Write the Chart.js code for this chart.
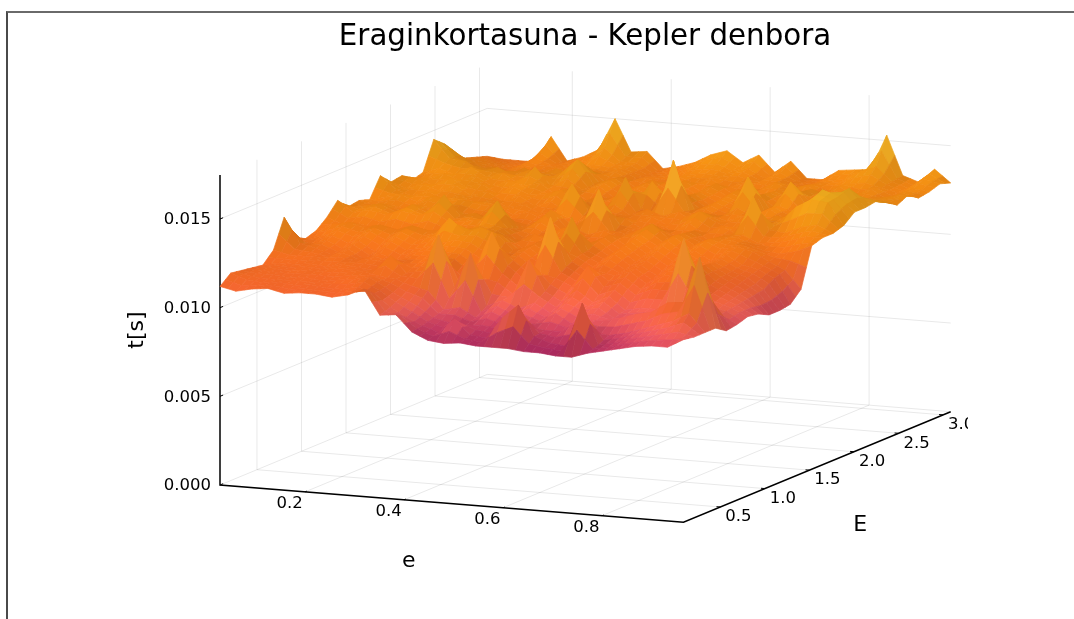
<!DOCTYPE html>
<html><head><meta charset="utf-8">
<style>
html,body{margin:0;padding:0;background:#fff}
#frame{position:absolute;left:6px;top:11px;width:1068px;height:608px;border-top:2px solid #6a6a6a;border-left:2px solid #4a4a4a;box-sizing:border-box}
#wrap{position:absolute;left:0;top:0;width:1074px;height:619px}
</style>
<script src="https://cdn.jsdelivr.net/npm/chart.js@4"></script>
</head><body><div id="frame"></div><div id="wrap"><canvas id="c" width="1074" height="619"></canvas></div>
<script>
const chartTitle = "Eraginkortasuna - Kepler denbora";
const eRange = [0.028, 0.965];
const ERange = [0.085, 3.086];
const eTicks = [0.2, 0.4, 0.6, 0.8];
const ETicks = [0.5, 1.0, 1.5, 2.0, 2.5, 3.0];
const tTicks = [0, 0.005, 0.010, 0.015];
const tMax = 0.01748;
// t[s] in units of 1e-4 s; rows go along E (first row = lowest E), columns along e
const tRows = [
[112,110,112,113,111,112,112,111,113,117,103,104,95,91,90,91,90,90,90,89,89,88,88,91,93,95,97,98,98,103],
[117,114,113,114,113,114,113,113,115,112,105,100,96,93,101,93,92,104,112,95,92,91,116,93,95,98,100,102,104,102],
[116,115,115,114,115,114,115,116,118,113,108,104,98,96,95,96,95,95,97,96,96,102,97,96,98,101,104,107,112,102],
[115,116,115,116,116,116,117,118,116,115,112,110,100,102,97,101,97,101,98,103,98,101,101,103,106,108,114,115,141,102],
[114,116,116,117,116,118,117,116,125,116,118,139,110,130,101,105,101,105,100,106,103,105,100,101,103,104,106,108,116,98],
[120,118,118,118,119,118,119,118,118,119,122,120,112,114,112,106,126,109,104,111,105,109,102,104,104,105,106,105,104,99],
[136,122,120,117,121,116,120,117,120,121,124,123,118,137,119,112,116,114,110,122,111,114,108,112,112,142,112,108,105,101],
[122,119,122,118,123,118,124,120,122,125,128,127,122,120,122,116,145,118,113,117,115,118,112,117,119,123,114,110,106,100],
[119,121,125,122,126,122,127,123,126,137,130,133,130,122,124,118,124,121,116,121,116,119,114,120,117,122,116,112,107,97],
[121,125,127,125,127,125,128,126,127,128,129,127,126,120,125,121,140,122,118,124,118,122,117,122,118,121,117,114,108,97],
[126,123,124,122,123,121,123,122,124,125,130,128,121,126,121,124,122,125,119,126,120,125,120,124,119,123,118,116,112,98],
[133,127,129,127,130,128,131,126,127,129,140,125,123,121,127,122,120,126,121,127,122,128,122,127,123,125,123,118,114,104],
[127,128,130,126,131,127,138,127,129,124,128,123,127,122,126,122,125,122,126,131,124,127,123,126,125,124,121,120,122,126],
[128,126,127,125,128,126,127,125,124,122,121,123,131,122,124,145,122,124,121,125,122,126,121,125,126,122,123,125,128,128],
[126,128,130,127,131,129,130,128,128,124,126,122,126,123,128,127,127,122,125,122,127,122,127,123,145,127,126,130,132,128],
[137,130,127,130,127,129,126,128,125,127,123,126,141,127,123,125,123,126,122,127,131,126,123,128,126,129,138,143,142,130],
[131,128,131,128,132,127,130,125,129,124,127,122,126,124,128,123,127,124,127,122,127,124,128,123,129,128,136,146,143,135],
[132,131,128,133,129,131,126,131,127,128,131,124,128,122,141,124,122,153,125,127,123,129,125,130,125,130,132,140,145,135],
[127,129,132,129,132,127,131,129,131,125,129,123,125,127,124,137,125,130,124,128,125,144,126,129,126,130,130,134,138,136],
[129,132,129,134,129,132,127,137,127,132,126,129,123,127,123,128,124,129,123,129,126,131,125,140,127,130,127,131,133,133],
[145,135,134,129,132,128,132,127,132,140,127,130,125,128,125,128,125,128,125,130,125,130,127,132,127,132,127,130,131,129],
[140,134,127,129,125,130,126,131,128,133,126,129,124,129,124,130,125,130,125,128,126,129,126,131,128,131,128,129,130,132],
[129,128,127,124,127,124,128,125,129,126,129,125,127,124,129,126,129,125,128,125,130,127,130,125,131,126,131,126,130,128],
[127,127,125,124,127,126,126,127,129,128,128,125,125,126,128,129,128,129,127,128,127,126,128,128,130,131,129,127,130,129],
[125,124,123,123,130,125,126,128,136,129,129,124,125,127,131,132,129,131,126,130,126,125,128,129,134,138,130,127,133,131],
[123,122,122,122,137,124,127,132,150,132,133,124,126,129,134,137,131,136,127,134,125,125,131,132,133,153,131,128,136,129]
];

// view of the box: screen directions of the three data axes
const origin = {x:220, y:485};
const eVec = {x:463.5, y:37.3};
const EVec = {x:267.2, y:-110.6};
const tScale = 17733;
function project(e, E, t){
  const a = (e-eRange[0])/(eRange[1]-eRange[0]);
  const b = (E-ERange[0])/(ERange[1]-ERange[0]);
  return {x: origin.x + a*eVec.x + b*EVec.x, y: origin.y + a*eVec.y + b*EVec.y - t*tScale};
}
const nE = tRows.length, ne = tRows[0].length;
const eAt = i => eRange[0] + (eRange[1]-eRange[0])*i/(ne-1);
const EAt = j => ERange[0] + (ERange[1]-ERange[0])*j/(nE-1);
const tAt = (i,j) => tRows[j][i]*1e-4;

const stops = [[88,[160,38,90]],[95,[190,56,92]],[100,[226,84,96]],[105,[244,102,76]],[112,[236,98,42]],[120,[238,112,28]],[125,[238,122,22]],[130,[236,136,18]],[140,[236,160,24]],[150,[242,182,36]],[156,[246,202,56]]];
function cmap(v){
  if(v<=stops[0][0]) return stops[0][1];
  for(let k=1;k<stops.length;k++){ if(v<=stops[k][0]){
    const f=(v-stops[k-1][0])/(stops[k][0]-stops[k-1][0]);
    return stops[k-1][1].map((c,n)=>c+(stops[k][1][n]-c)*f);
  }}
  return stops[stops.length-1][1];
}
const L = [-0.25,-0.5,0.83];
const vertexColors = tRows.map((row,j)=>row.map((v,i)=>{
  const il=Math.max(i-1,0), ir=Math.min(i+1,ne-1), jl=Math.max(j-1,0), jr=Math.min(j+1,nE-1);
  const dzi=(tRows[j][ir]-tRows[j][il])*1e-4*tScale/(ir-il)/18;
  const dzj=(tRows[jr][i]-tRows[jl][i])*1e-4*tScale/(jr-jl)/12;
  const len=Math.hypot(dzi,dzj,1);
  const dot=(-dzi*L[0]-dzj*L[1]+L[2])/len;
  const s=1+0.11*Math.tanh(3*(dot-L[2]));
  return cmap(v).map(c=>Math.min(255,c*s));
}));

const SUB = 2;
function bil(f00,f10,f01,f11,u,v){return f00*(1-u)*(1-v)+f10*u*(1-v)+f01*(1-u)*v+f11*u*v;}
function surfacePoint(i,j,u,v){
  const t=bil(tAt(i,j),tAt(i+1,j),tAt(i,j+1),tAt(i+1,j+1),u,v);
  return project(eAt(i+u),EAt(j+v),t);
}
function surfaceColor(i,j,u,v){
  const c=[0,1,2].map(n=>Math.round(bil(vertexColors[j][i][n],vertexColors[j][i+1][n],vertexColors[j+1][i][n],vertexColors[j+1][i+1][n],u,v)));
  return `rgb(${c[0]},${c[1]},${c[2]})`;
}
const surface=[];
for(let j=nE-2;j>=0;j--){
  for(let i=0;i<ne-1;i++){
    for(let sv=SUB-1;sv>=0;sv--){
      for(let su=0;su<SUB;su++){
        const u0=su/SUB,u1=(su+1)/SUB,v0=sv/SUB,v1=(sv+1)/SUB;
        const col=surfaceColor(i,j,(u0+u1)/2,(v0+v1)/2);
        const p=[surfacePoint(i,j,u0,v0),surfacePoint(i,j,u1,v0),surfacePoint(i,j,u1,v1),surfacePoint(i,j,u0,v1)];
        p.push(p[0]);
        surface.push({data:p,showLine:true,fill:'shape',backgroundColor:col,borderColor:col,borderWidth:0.7,pointRadius:0,tension:0});
      }
    }
  }
}
const [e0,e1]=eRange,[E0,E1]=ERange;
const gridStyle={showLine:true,borderColor:'rgba(0,0,0,0.09)',borderWidth:1,pointRadius:0,fill:false};
const axisStyle={showLine:true,borderColor:'#000',borderWidth:1.5,pointRadius:0,fill:false};
const guides=[];
eTicks.forEach(e=>{
  guides.push({...gridStyle,data:[project(e,E0,0),project(e,E1,0),project(e,E1,tMax)]});
});
ETicks.forEach(E=>{
  guides.push({...gridStyle,data:[project(e1,E,0),project(e0,E,0),project(e0,E,tMax)]});
});
tTicks.forEach(t=>{
  guides.push({...gridStyle,data:[project(e0,E0,t),project(e0,E1,t),project(e1,E1,t)]});
});
const axes=[
  {...axisStyle,data:[project(e0,E0,tMax),project(e0,E0,0),project(e1,E0,0),project(e1,E1,0)]}
];
tTicks.forEach(t=>axes.push({...axisStyle,borderWidth:1,data:[project(e0,E0,t),project(e0,E0+0.035,t)]}));
eTicks.forEach(e=>axes.push({...axisStyle,borderWidth:1,data:[project(e,E0,0),project(e,E0+0.02,0)]}));
ETicks.forEach(E=>axes.push({...axisStyle,borderWidth:1,data:[project(e1,E,0),project(e1-0.008,E,0)]}));

const tickText={
  id:'tickText',
  afterDatasetsDraw(chart){
    const {ctx,scales}=chart;
    const X=v=>scales.x.getPixelForValue(v),Y=v=>scales.y.getPixelForValue(v);
    ctx.save();
    ctx.beginPath();ctx.rect(0,0,968,619);ctx.clip();
    ctx.fillStyle='#000';
    ctx.font='16.5px "DejaVu Sans"';
    ctx.textBaseline='middle';
    ctx.textAlign='right';
    tTicks.forEach(t=>{const p=project(e0,E0,t);ctx.fillText(t.toFixed(3),X(p.x)-9,Y(p.y)+1);});
    ctx.textAlign='center';
    eTicks.forEach(e=>{const p=project(e,E0,0);ctx.fillText(e.toFixed(1),X(p.x)-15.5,Y(p.y)+12);});
    ETicks.forEach(E=>{const p=project(e1,E,0);ctx.fillText(E.toFixed(1),X(p.x)+18,Y(p.y)+10);});
    ctx.font='22px "DejaVu Sans"';
    const em=project((e0+e1)/2,E0,0);
    ctx.fillText('e',X(em.x)-43,Y(em.y)+58);
    const Em=project(e1,(E0+E1)/2,0);
    ctx.fillText('E',X(Em.x)+43,Y(Em.y)+58);
    const tm=project(e0,E0,tMax/2);
    ctx.save();ctx.translate(X(tm.x)-83,Y(tm.y));ctx.rotate(-Math.PI/2);ctx.fillText('t[s]',0,0);ctx.restore();
    ctx.restore();
  }
};

new Chart(document.getElementById('c'),{
  type:'scatter',
  data:{datasets:[...surface.reverse(),...axes,...guides]},
  options:{
    responsive:false,animation:false,normalized:true,
    layout:{padding:{left:96,right:0,top:0,bottom:0}},
    events:[],
    elements:{line:{tension:0,capBezierPoints:false}},
    scales:{
      x:{type:'linear',display:false,min:96,max:1074},
      y:{type:'linear',display:false,min:60,max:619,reverse:true}
    },
    plugins:{
      legend:{display:false},tooltip:{enabled:false},
      title:{display:true,text:chartTitle,color:'#000',font:{family:'"DejaVu Sans"',size:29.3,weight:'normal',lineHeight:1.2},padding:{top:19.4,bottom:5.44}}
    }
  },
  plugins:[tickText]
});
</script></body></html>
